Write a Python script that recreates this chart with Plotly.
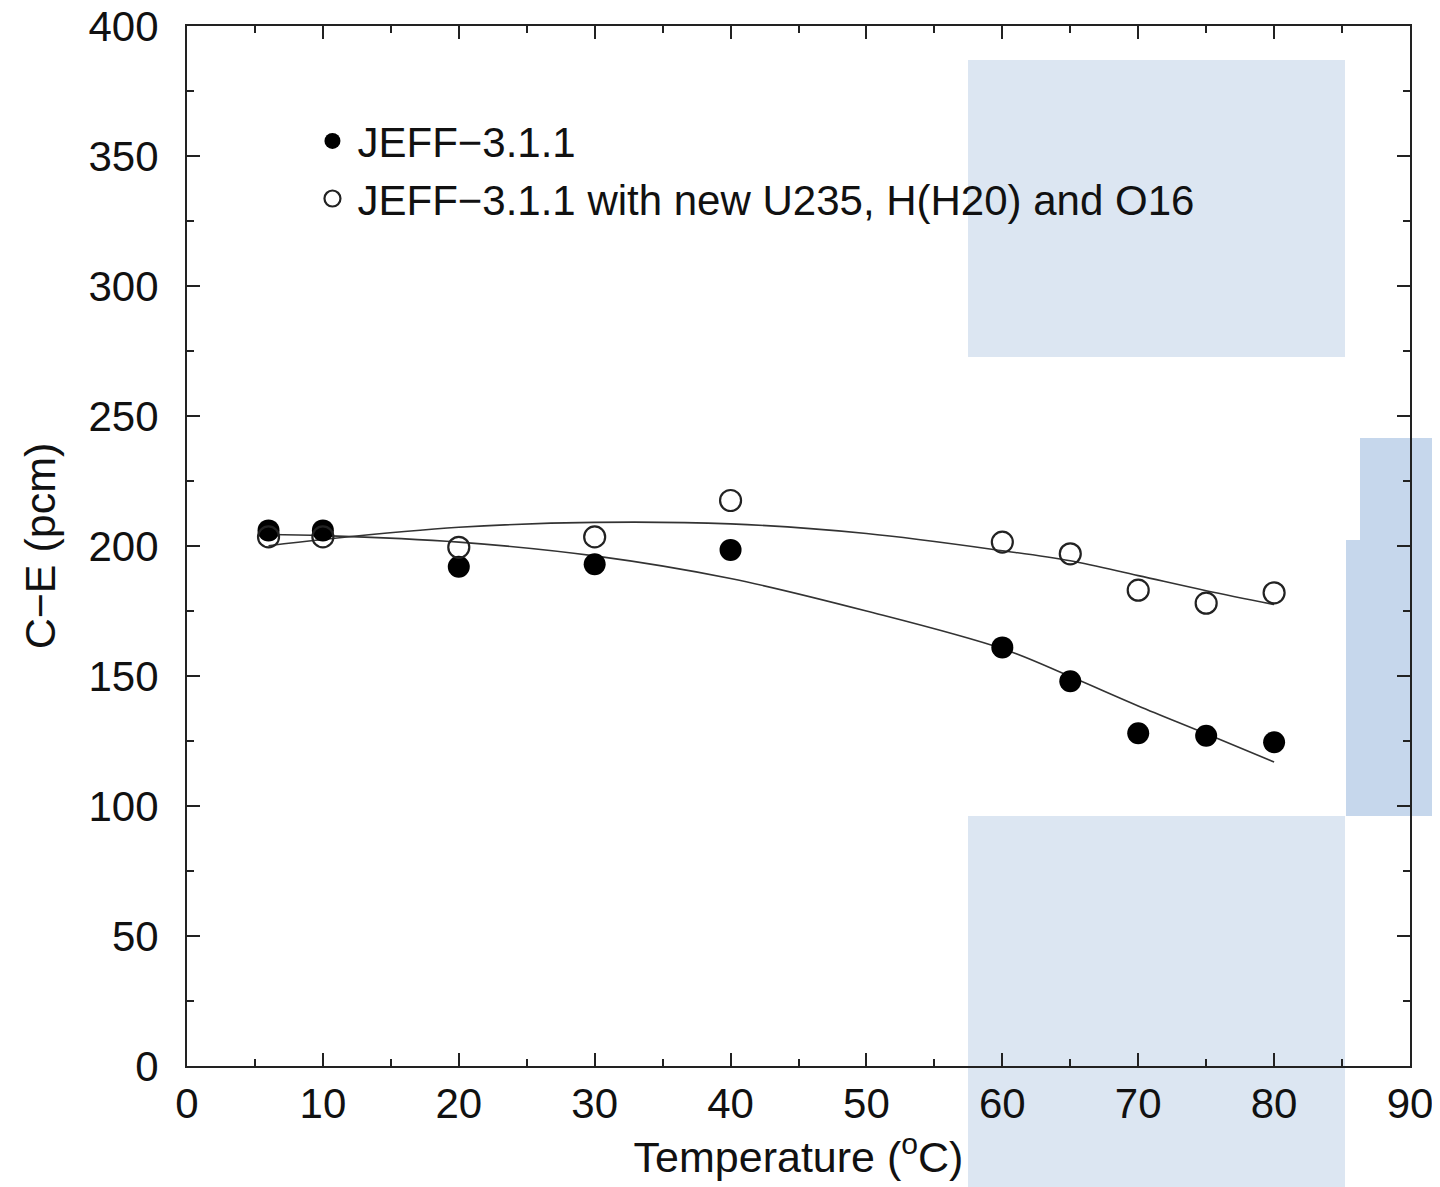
import plotly.graph_objects as go

# ---- data ----
temps = [6, 10, 20, 30, 40, 60, 65, 70, 75, 80]
jeff311 = [206, 206, 192, 193, 198.5, 161, 148, 128, 127, 124.5]
jeff311_new = [203.5, 203.5, 199.5, 203.5, 217.5, 201.5, 197, 183, 178, 182]

fit_x = [6, 10, 20, 30, 40, 50, 60, 65, 70, 75, 80]
fit_jeff311 = [204.4, 204.0, 201.5, 196.2, 187.5, 175.0, 160.5, 149.8, 138.5, 127.8, 116.9]
fit_jeff311_new = [200.1, 202.5, 207.2, 209.1, 208.5, 204.8, 198.2, 194.3, 188.6, 182.8, 177.5]

x_ticks = [0, 10, 20, 30, 40, 50, 60, 70, 80, 90]
y_ticks = [0, 50, 100, 150, 200, 250, 300, 350, 400]

FONT = "Liberation Sans, Arial, Helvetica, sans-serif"

fig = go.Figure()

fig.add_trace(go.Scatter(x=fit_x, y=fit_jeff311, mode="lines", line=dict(color="#333333", width=1.6, shape="spline"),
                         showlegend=False, hoverinfo="skip"))
fig.add_trace(go.Scatter(x=fit_x, y=fit_jeff311_new, mode="lines", line=dict(color="#333333", width=1.6, shape="spline"),
                         showlegend=False, hoverinfo="skip"))

fig.add_trace(go.Scatter(x=temps, y=jeff311, mode="markers", name="JEFF\u22123.1.1",
                         marker=dict(symbol="circle", size=22, color="black", line=dict(width=0))))
fig.add_trace(go.Scatter(x=temps, y=jeff311_new, mode="markers",
                         name="JEFF\u22123.1.1 with new U235, H(H20) and O16",
                         marker=dict(symbol="circle-open", size=21, color="#222222", line=dict(width=2.2))))

# target plot-area frame in the reference picture (pixels)
L, R, T, B = 187, 1410, 26, 1066
def px(xp):
    return (xp - L) / (R - L)
def py(yp):
    return (B - yp) / (B - T)

# light-blue overlay boxes present in the reference image
boxes = [
    (968, 60, 1345, 357, "#DCE6F2"),
    (968, 816, 1345, 1187, "#DCE6F2"),
    (1360, 438, 1440, 540, "#C6D7EC"),
    (1346, 540, 1440, 816, "#C6D7EC"),
]
for x0, y0, x1, y1, c in boxes:
    fig.add_shape(type="rect", xref="paper", yref="paper", x0=px(x0), x1=px(x1), y0=py(y1), y1=py(y0),
                  fillcolor=c, line=dict(width=0), layer="below")

axis_common = dict(
    showline=True, linecolor="#222222", linewidth=2, mirror="allticks",
    ticks="inside", ticklen=13, tickwidth=1.8, tickcolor="#222222",
    showgrid=False, zeroline=False, automargin=False, ticklabeloverflow="allow",
    tickfont=dict(family=FONT, size=42, color="#111111"),
)

fig.update_xaxes(range=[0, 90], tickvals=x_ticks, ticktext=[str(v) for v in x_ticks],
                 minor=dict(ticks="inside", ticklen=7, dtick=5, tick0=0, tickcolor="#222222", tickwidth=1.5),
                 title=dict(text="Temperature (<sup>o</sup>C)", font=dict(family=FONT, size=43, color="#111111"), standoff=12),
                 **axis_common)
fig.update_yaxes(range=[0, 400], tickvals=y_ticks, ticktext=[str(v) for v in y_ticks],
                 ticklabelstandoff=18,
                 minor=dict(ticks="inside", ticklen=7, dtick=25, tick0=0, tickcolor="#222222", tickwidth=1.5),
                 title=dict(text="C\u2212E (pcm)", font=dict(family=FONT, size=43, color="#111111"), standoff=19),
                 **axis_common)

# page offset compensation observed in the renderer (body margin)
OX, OY = 8, 8
fig.update_layout(
    width=1440, height=1187,
    margin=dict(l=L - OX, r=1440 - (R - OX), t=T - OY, b=1187 - (B - OY), autoexpand=False),
    paper_bgcolor="white", plot_bgcolor="rgba(0,0,0,0)",
    font=dict(family=FONT, color="#111111"),
    legend=dict(x=0.0985, y=0.922, xanchor="left", yanchor="top",
                font=dict(family=FONT, size=42, color="#111111"),
                bgcolor="rgba(0,0,0,0)", itemwidth=40, tracegroupgap=0),
)

fig.write_html("out.html")
